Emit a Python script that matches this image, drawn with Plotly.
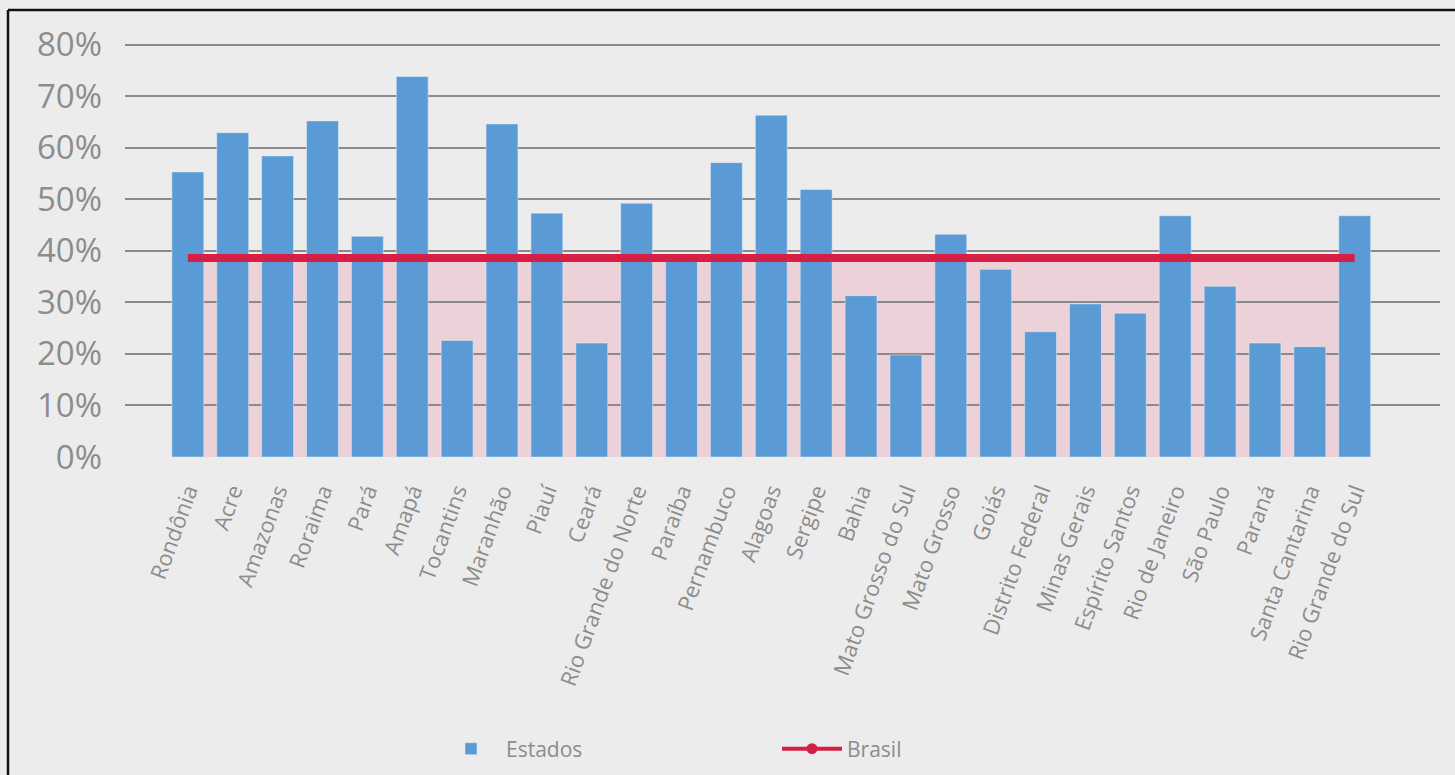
import plotly.graph_objects as go

estados = ["Rondônia", "Acre", "Amazonas", "Roraima", "Pará", "Amapá", "Tocantins",
           "Maranhão", "Piauí", "Ceará", "Rio Grande do Norte", "Paraíba", "Pernambuco",
           "Alagoas", "Sergipe", "Bahia", "Mato Grosso do Sul", "Mato Grosso", "Goiás",
           "Distrito Federal", "Minas Gerais", "Espírito Santos", "Rio de Janeiro",
           "São Paulo", "Paraná", "Santa Cantarina", "Rio Grande do Sul"]
valores_estados = [55.3, 62.9, 58.4, 65.2, 42.8, 73.8, 22.6, 64.6, 47.3, 22.1, 49.2, 38.2,
                   57.1, 66.3, 51.9, 31.3, 19.8, 43.2, 36.4, 24.3, 29.7, 27.9, 46.8, 33.1,
                   22.1, 21.4, 46.8]
valor_brasil = 38.6
y_ticks = [0, 10, 20, 30, 40, 50, 60, 70, 80]
y_ticktext = [f"{v}%" for v in y_ticks]

W, H = 1455, 775
Y_TOP = 80.5
ML, MR, MT, MB = 125, 15, 42, 318
pw, ph = W - ML - MR, H - MT - MB

idx = list(range(len(estados)))
BLUE = "#5b9bd5"
RED = "#d61f45"
GRAY_TXT = "#8c8c8c"

fig = go.Figure()
fig.add_trace(go.Bar(x=idx, y=valores_estados, name="Estados", marker_color=BLUE,
                     width=0.71, showlegend=True))
fig.add_trace(go.Scatter(x=idx, y=[valor_brasil] * len(idx), mode="lines", name="Brasil",
                         line=dict(color=RED, width=8), showlegend=False))
fig.add_trace(go.Scatter(x=[None], y=[None], mode="lines+markers", name="Brasil",
                         line=dict(color=RED, width=4), marker=dict(color=RED, size=11)))

shapes = [
    dict(type="rect", xref="x", yref="y", x0=idx[0], x1=idx[-1], y0=0, y1=valor_brasil,
         fillcolor="rgba(240,160,180,0.35)", line=dict(width=0), layer="below"),
]
# frame (left and top edge only)
fx = (8 - ML) / pw
fy_top = (H - MB - 10) / ph
fy_bot = -(MB + 20) / ph
fx_right = (W + 20 - ML) / pw
shapes.append(dict(type="line", xref="paper", yref="paper", x0=fx, x1=fx, y0=fy_bot, y1=fy_top,
                   line=dict(color="#111111", width=2.5)))
shapes.append(dict(type="line", xref="paper", yref="paper", x0=fx, x1=fx_right, y0=fy_top, y1=fy_top,
                   line=dict(color="#111111", width=2.5)))

fig.update_layout(
    width=W, height=H,
    margin=dict(l=ML, r=MR, t=MT, b=MB, autoexpand=False),
    paper_bgcolor="#ececec", plot_bgcolor="rgba(0,0,0,0)",
    font=dict(family="Open Sans", color=GRAY_TXT),
    shapes=shapes,
    xaxis=dict(tickmode="array", tickvals=idx, ticktext=estados, tickangle=-70,
               range=[-1.4, 27.9], showgrid=False, zeroline=False, showline=False,
               tickfont=dict(size=22, color=GRAY_TXT), ticklabelstandoff=16,
               automargin=False),
    yaxis=dict(range=[0, Y_TOP], tickmode="array", tickvals=y_ticks, ticktext=y_ticktext,
               showgrid=True, gridcolor="#8a8a8a", gridwidth=2, zeroline=False,
               showline=False, tickfont=dict(size=33, color=GRAY_TXT), ticklabelstandoff=22,
               automargin=False),
    legend=dict(orientation="h", x=(436 - ML) / pw, xanchor="left", y=-(749 - (H - MB)) / ph,
                yanchor="middle", font=dict(size=21, color=GRAY_TXT), bgcolor="rgba(0,0,0,0)",
                traceorder="normal", itemwidth=60, entrywidth=266, entrywidthmode="pixels"),
)

fig.write_html("out.html")
